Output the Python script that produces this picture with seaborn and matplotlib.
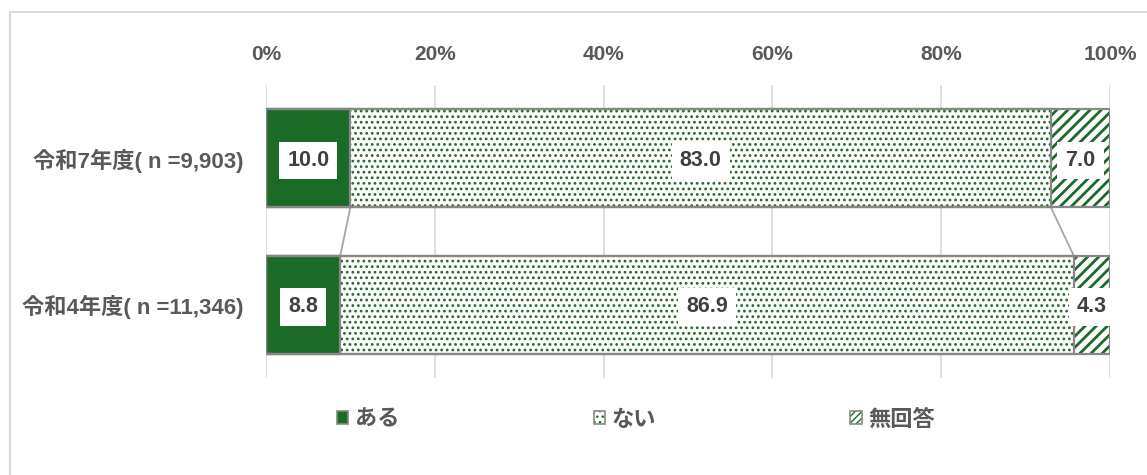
import matplotlib
matplotlib.use("Agg")
import matplotlib.pyplot as plt
from matplotlib.patches import Patch, Rectangle
import seaborn as sns
import numpy as np
import pandas as pd

# ---- data ----
categories = ["令和7年度( n =9,903)", "令和4年度( n =11,346)"]
series_names = ["ある", "ない", "無回答"]
aru = [10.0, 8.8]
nai = [83.0, 86.9]
mukaito = [7.0, 4.3]
tick_values = [0, 20, 40, 60, 80, 100]
tick_labels = ["0%", "20%", "40%", "60%", "80%", "100%"]

GREEN = "#1b6a26"
EDGE = "#878787"
FAM = ["Liberation Sans", "Noto Sans CJK JP", "DejaVu Sans"]

sns.set_theme(style="white")
plt.rcParams["font.family"] = FAM
plt.rcParams["font.weight"] = "bold"

df = pd.DataFrame({"cat": categories, "ある": aru, "ない": nai, "無回答": mukaito})
df["c1"] = df["ある"]
df["c2"] = df["ある"] + df["ない"]
df["c3"] = df["c2"] + df["無回答"]

fig = plt.figure(figsize=(11.47, 4.75), dpi=100)
ax = fig.add_axes([266 / 1147, 1 - 378 / 475, (1110 - 266) / 1147, (378 - 85) / 475])

BW = 0.67
# stacked via cumulative overlays (largest first)
with plt.rc_context({"hatch.linewidth": 2.0}):
    sns.barplot(data=df, x="c3", y="cat", orient="h", width=BW, color="white",
                edgecolor=GREEN, linewidth=0, hatch="///", saturation=1, ax=ax, zorder=2)
with plt.rc_context({"hatch.linewidth": 1.2}):
    sns.barplot(data=df, x="c2", y="cat", orient="h", width=BW, color="white",
                edgecolor=GREEN, linewidth=0, hatch="...", saturation=1, ax=ax, zorder=3)
sns.barplot(data=df, x="c1", y="cat", orient="h", width=BW, color=GREEN,
            linewidth=0, saturation=1, ax=ax, zorder=4)
# outlines
for col in ["c3", "c2", "c1"]:
    sns.barplot(data=df, x=col, y="cat", orient="h", width=BW, color=EDGE,
                fill=False, linewidth=1.6, saturation=1, ax=ax, zorder=5)

# connector lines between the bars
for col in ["c1", "c2"]:
    ax.plot([df[col].iloc[0], df[col].iloc[1]], [0 + BW / 2, 1 - BW / 2],
            color="#a6a6a6", lw=1.3, zorder=1)

# data labels
for i in range(len(df)):
    starts = [0, df["c1"].iloc[i], df["c2"].iloc[i]]
    vals = [df["ある"].iloc[i], df["ない"].iloc[i], df["無回答"].iloc[i]]
    for s, v in zip(starts, vals):
        ax.text(s + v / 2, i + 0.015, f"{v:.1f}", ha="center", va="center", fontsize=15.5,
                fontweight="bold", color="#404040", zorder=6,
                bbox=dict(boxstyle="square,pad=0.38", fc="white", ec="none"))

ax.set_xlim(0, 100)
ax.set_ylim(1.5, -0.5)
ax.set_xticks(tick_values)
ax.set_xticklabels(tick_labels)
ax.xaxis.tick_top()
ax.tick_params(axis="x", length=0, pad=15, labelsize=15, labelcolor="#595959")
ax.tick_params(axis="y", length=0, pad=16, labelsize=16, labelcolor="#595959")
for lab in ax.get_xticklabels() + ax.get_yticklabels():
    lab.set_fontweight("bold")
ax.set_xlabel("")
ax.set_ylabel("")
ax.grid(axis="x", color="#d9d9d9", lw=1.2, zorder=0)
ax.grid(axis="y", visible=False)
ax.set_axisbelow(True)
for sp in ax.spines.values():
    sp.set_visible(False)

# legend
outline = Patch(facecolor="none", edgecolor=EDGE, lw=1.2)
handles = [
    (Patch(facecolor=GREEN, edgecolor="none", lw=0), outline),
    (Patch(facecolor="white", edgecolor=GREEN, hatch="...", lw=0), outline),
    (Patch(facecolor="white", edgecolor=GREEN, hatch="/////", lw=0), outline),
]
leg = fig.legend(handles, series_names, loc="center", ncol=3,
                 bbox_to_anchor=(636 / 1147, 1 - 420 / 475), frameon=False,
                 prop={"family": FAM, "weight": "bold", "size": 16},
                 handlelength=0.5, handleheight=0.5, handletextpad=0.3,
                 columnspacing=8.75, labelcolor="#595959")

# outer frame
fig.patches.append(Rectangle((10 / 1147, -0.1), 1.2, 1.1 - 12 / 475, transform=fig.transFigure,
                             fill=False, edgecolor="#d9d9d9", lw=1.5, zorder=0))

fig.savefig("out.png", dpi=100)
